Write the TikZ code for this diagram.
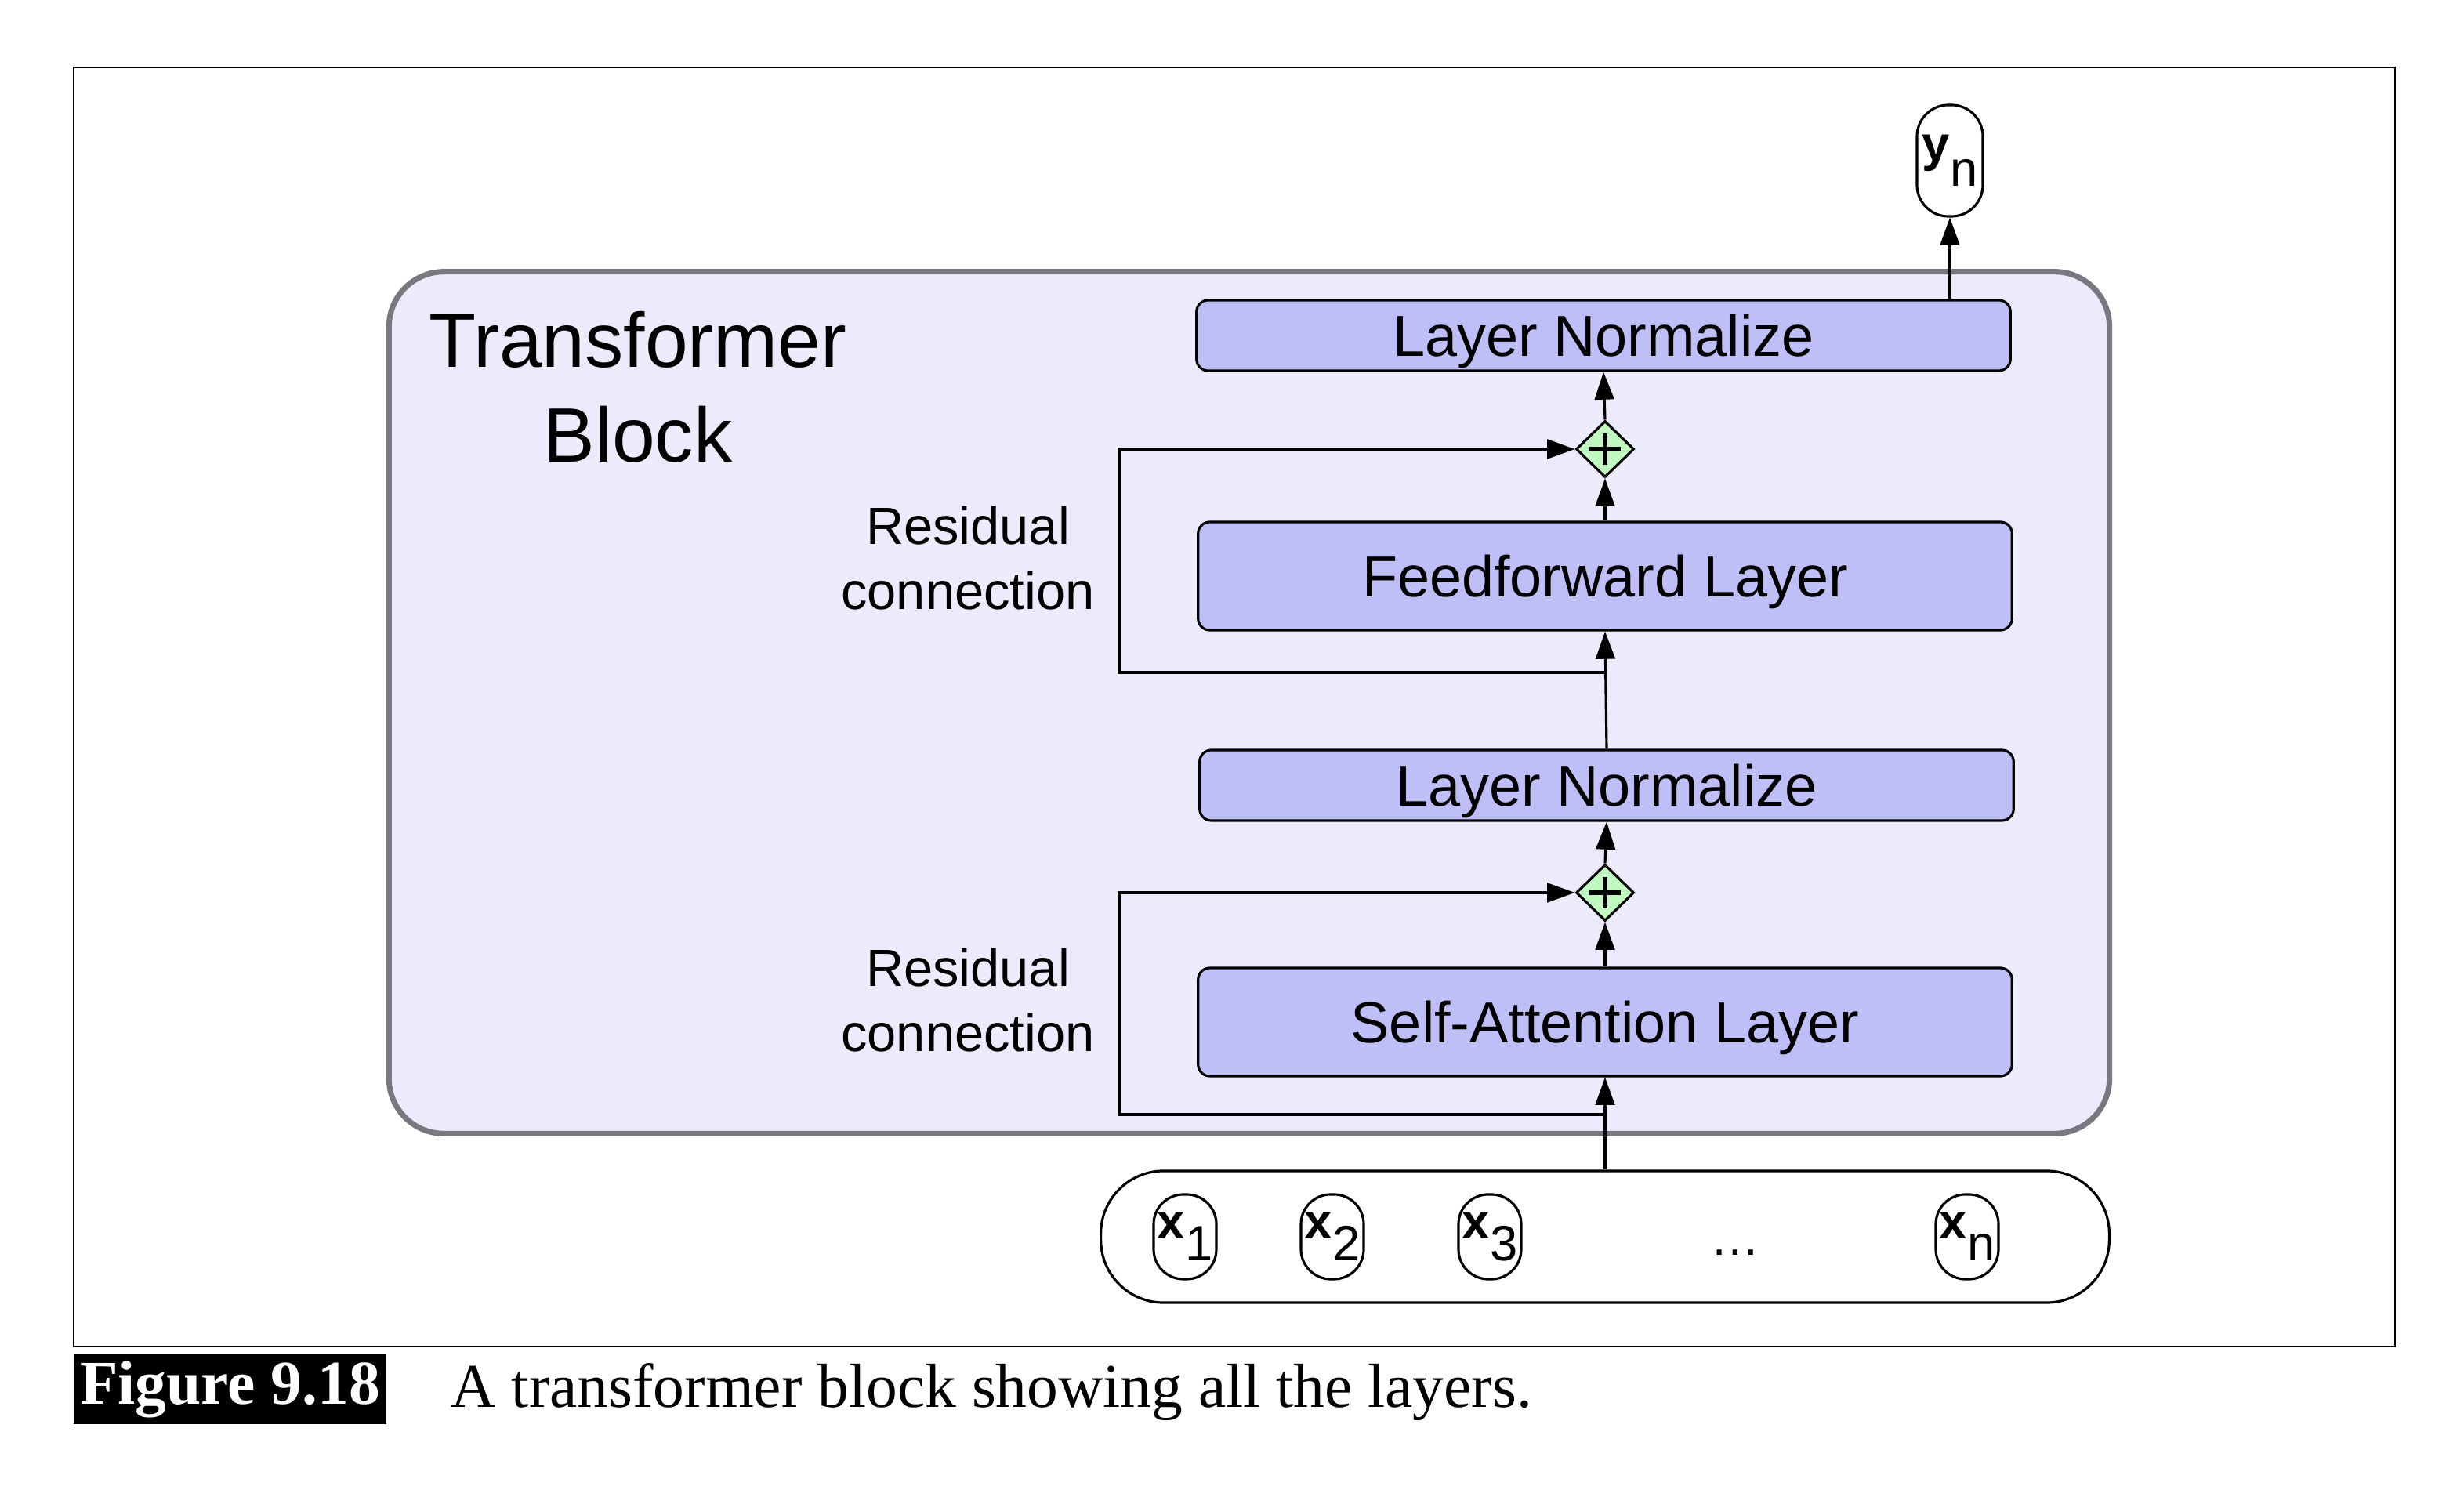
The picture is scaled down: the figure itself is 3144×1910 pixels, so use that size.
\documentclass[tikz,border=0pt]{standalone}
\usepackage{fontspec}
\setmainfont{Liberation Serif}
\setsansfont{Liberation Sans}
\usepackage{tikz}
\usetikzlibrary{arrows.meta,positioning,shapes.geometric,calc}
\definecolor{blockbg}{RGB}{235,235,252}
\definecolor{blockedge}{RGB}{120,120,128}
\definecolor{layerfill}{RGB}{191,191,248}
\definecolor{addfill}{RGB}{192,248,192}
\tikzset{
  layer/.style={draw,fill=layerfill,rounded corners=0.15cm,minimum width=10.38cm,
    line width=0.9pt,text depth=0pt,font=\sffamily\fontsize{21}{25}\selectfont},
  add/.style={diamond,draw,fill=addfill,minimum width=0.74cm,minimum height=0.72cm,
    inner sep=0pt,line width=0.9pt,
    path picture={\draw[line width=1.6pt]
      ([xshift=-0.2cm]path picture bounding box.center) -- ([xshift=0.2cm]path picture bounding box.center)
      ([yshift=-0.2cm]path picture bounding box.center) -- ([yshift=0.2cm]path picture bounding box.center);}},
  token/.style={draw,rounded corners=0.38cm,minimum width=0.8cm,minimum height=1.08cm,
    inner sep=0pt,line width=0.9pt,font=\sffamily\fontsize{18}{20}\selectfont},
  flow/.style={-{Triangle[length=10pt,width=7pt]},line width=0.9pt},
  resid/.style={align=center,font=\sffamily\fontsize{19}{23.5}\selectfont}
}
\newcommand{\vecsub}[3][8pt]{\textbf{#2}\raisebox{-#1}{#3}}

\begin{document}
\begin{tikzpicture}[x=0.01cm,y=-0.01cm]
  \useasboundingbox (0,0) rectangle (3144,1910);
  \draw[line width=0.7pt] (94,86) rectangle (3056,1718);

  % transformer block
  \node[draw=blockedge,fill=blockbg,line width=2pt,rounded corners=0.7cm,
    minimum width=21.94cm,minimum height=10.99cm] (block) at (1594,896.5) {};
  \node[align=center,font=\sffamily\fontsize{28}{34.6}\selectfont] (title) at (814,494)
    {Transformer\\Block};

  \node[layer,minimum height=0.9cm] (lnTop) at (2046,428) {Layer Normalize};
  \node[add] (addTop) at (2048,573) {};
  \node[layer,minimum height=1.38cm] (ff) at (2048,735) {Feedforward Layer};
  \node[layer,minimum height=0.9cm] (lnMid) at (2050,1002) {Layer Normalize};
  \node[add] (addBot) at (2048,1139) {};
  \node[layer,minimum height=1.38cm] (sa) at (2048,1304) {Self-Attention Layer};

  \node[resid] (resTopLabel) at (1235,712) {Residual\\connection};
  \node[resid] (resBotLabel) at (1235,1276) {Residual\\connection};

  % inputs and output
  \node[draw,rounded corners=0.8cm,minimum width=12.86cm,minimum height=1.68cm,
    line width=0.9pt] (inputs) at (2048,1578) {};
  \node[token] (x1) at (1512,1578) {\vecsub{x}{1}};
  \node[token] (x2) at (1700,1578) {\vecsub{x}{2}};
  \node[token] (x3) at (1901,1578) {\vecsub{x}{3}};
  \node[font=\sffamily\fontsize{18}{20}\selectfont,inner sep=1pt] (dots) at (2214,1598) {\ldots};
  \node[token] (xn) at (2510,1578) {\vecsub{x}{n}};
  \node[token,minimum width=0.84cm,minimum height=1.42cm,rounded corners=0.4cm] (yn) at (2488,205)
    {\vecsub[9pt]{y}{n}};

  % connectors
  \draw[flow] (inputs.north) -- (sa.south);
  \draw[flow] (sa.north) -- (addBot.south);
  \draw[flow] (addBot.north) -- (lnMid.south);
  \draw[flow] (lnMid.north) -- (ff.south);
  \draw[flow] (ff.north) -- (addTop.south);
  \draw[flow] (addTop.north) -- (lnTop.south);
  \draw[flow] (lnTop.north -| yn.south) -- (yn.south);

  \coordinate (resBot) at (2048,1422);
  \coordinate (resTop) at (2048,858);
  \draw[flow] (resBot) -- ++(-620,0) |- (addBot.west);
  \draw[flow] (resTop) -- ++(-620,0) |- (addTop.west);

  % caption
  \node[fill=black,text=white,inner sep=0pt,minimum width=3.99cm,minimum height=0.89cm,
    font=\bfseries\fontsize{22.6}{26}\selectfont] (figLabel) at (293.5,1772.5) {Figure 9.18};
  \node[anchor=base west,inner sep=0pt,font=\fontsize{22.6}{26}\selectfont] (caption)
    at (575,1795) {A transformer block showing all the layers.};
\end{tikzpicture}
\end{document}
